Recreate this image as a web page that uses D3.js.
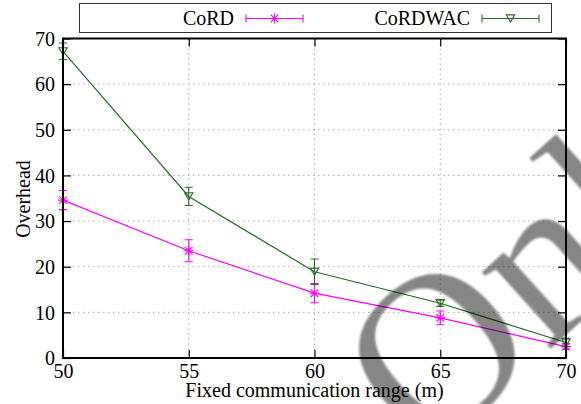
<!DOCTYPE html>
<html><head><meta charset="utf-8">
<script src="https://cdn.jsdelivr.net/npm/d3@7"></script>
<style>body{margin:0;background:#fff}svg{display:block}</style>
</head><body>
<svg id="c" width="581" height="404"></svg>
<script>
const xValues = [50, 55, 60, 65, 70];
const seriesNames = ["CoRD", "CoRDWAC"];
const cordValues = [34.6, 23.5, 14.2, 8.8, 2.5];
const cordErrors = [2.1, 2.4, 2.1, 1.5, 0.6];
const wacValues = [67.2, 35.4, 18.9, 12.0, 3.4];
const wacErrors = [1.8, 2.0, 2.8, 0.7, 0.9];
const xTicks = [50, 55, 60, 65, 70];
const yTicks = [0, 10, 20, 30, 40, 50, 60, 70];
const xTitle = "Fixed communication range (m)";
const yTitle = "Overhead";
const watermark = "Online";

const svg = d3.select("#c");
const font = "Liberation Serif, Times New Roman, serif";
const FS = 20;
const L = 63, R = 566, T = 38.5, B = 358;
const x = d3.scaleLinear().domain([50, 70]).range([L, R]);
const y = d3.scaleLinear().domain([0, 70]).range([B, T]);
const colors = ["#ff00ff", "#2a6a2a"];

svg.append("rect").attr("width", 581).attr("height", 404).attr("fill", "#fff");

// grid
const g = svg.append("g");
g.selectAll(".gy").data(yTicks.filter(d => d > 0 && d < 70)).join("line")
  .attr("x1", L).attr("x2", R).attr("y1", d => y(d)).attr("y2", d => y(d))
  .attr("stroke", "#aaa").attr("stroke-width", 1).attr("stroke-dasharray", "1.5,3.5");
g.selectAll(".gx").data(xTicks.filter(d => d > 50 && d < 70)).join("line")
  .attr("y1", T).attr("y2", B).attr("x1", d => x(d)).attr("x2", d => x(d))
  .attr("stroke", "#aaa").attr("stroke-width", 1).attr("stroke-dasharray", "1.5,3.5");

// axes with inward ticks (mirrored)
const axL = svg.append("g").attr("transform", `translate(${L},0)`)
  .call(d3.axisLeft(y).tickValues(yTicks).tickSize(-8).tickPadding(8).tickFormat(d3.format("d")));
const axR = svg.append("g").attr("transform", `translate(${R},0)`)
  .call(d3.axisRight(y).tickValues(yTicks).tickSize(-8).tickFormat(""));
const axB = svg.append("g").attr("transform", `translate(0,${B})`)
  .call(d3.axisBottom(x).tickValues(xTicks).tickSize(-8).tickPadding(6).tickFormat(d3.format("d")));
const axT = svg.append("g").attr("transform", `translate(0,${T})`)
  .call(d3.axisTop(x).tickValues(xTicks).tickSize(-8).tickFormat(""));
[axL, axR, axB, axT].forEach(a => {
  a.attr("font-family", font).attr("font-size", FS);
  a.select(".domain").remove();
  a.selectAll("line").attr("stroke", "#000").attr("stroke-width", 1.2);
  a.selectAll("text").style("font-family", font).style("font-size", FS + "px").attr("fill", "#000");
});
axL.selectAll("text").attr("dy", "0.34em");
axB.selectAll("text").attr("dy", "0.71em");

// series
const series = [
  {name: seriesNames[0], vals: cordValues, errs: cordErrors, color: colors[0], marker: "star"},
  {name: seriesNames[1], vals: wacValues, errs: wacErrors, color: colors[1], marker: "tri"}
];
const line = d3.line().x(d => x(d[0])).y(d => y(d[1]));

function drawMarker(sel, type, cx, cy, color) {
  if (type === "star") {
    const s = 5, d = 3.8;
    const p = `M${cx - s},${cy}H${cx + s}M${cx},${cy - s}V${cy + s}M${cx - d},${cy - d}L${cx + d},${cy + d}M${cx - d},${cy + d}L${cx + d},${cy - d}`;
    sel.append("path").attr("d", p).attr("stroke", color).attr("stroke-width", 1.1).attr("fill", "none");
  } else {
    const w = 4.2, h = 3.6;
    const p = `M${cx - w},${cy - h}L${cx + w},${cy - h}L${cx},${cy + h}Z`;
    sel.append("path").attr("d", p).attr("stroke", color).attr("stroke-width", 1.1).attr("fill", "none");
  }
}

series.forEach(s => {
  const data = xValues.map((xv, i) => [xv, s.vals[i], s.errs[i]]);
  const sg = svg.append("g");
  sg.append("path").datum(data).attr("d", line).attr("fill", "none")
    .attr("stroke", s.color).attr("stroke-width", 1.2);
  data.forEach(d => {
    const cx = x(d[0]), y1 = y(d[1] - d[2]), y2 = y(d[1] + d[2]), cw = 4;
    sg.append("path")
      .attr("d", `M${cx},${y1}V${y2}M${cx - cw},${y1}H${cx + cw}M${cx - cw},${y2}H${cx + cw}`)
      .attr("stroke", s.color).attr("stroke-width", 1.1).attr("fill", "none");
    drawMarker(sg, s.marker, cx, y(d[1]), s.color);
  });
});

// frame
svg.append("rect").attr("x", L).attr("y", T).attr("width", R - L).attr("height", B - T)
  .attr("fill", "none").attr("stroke", "#000").attr("stroke-width", 2);

// axis titles
svg.append("text").attr("x", 314.5).attr("y", 396.5).attr("text-anchor", "middle")
  .attr("font-family", font).attr("font-size", FS).text(xTitle);
svg.append("text").attr("transform", "translate(30,199) rotate(-90)").attr("text-anchor", "middle")
  .attr("font-family", font).attr("font-size", FS).text(yTitle);

// legend
svg.append("rect").attr("x", 79.5).attr("y", 3.5).attr("width", 472).attr("height", 29)
  .attr("fill", "#fff").attr("stroke", "#333").attr("stroke-width", 1);
const legendItems = [
  {textX: 234, x1: 246, x2: 303},
  {textX: 470, x1: 482, x2: 539}
];
series.forEach((s, i) => {
  const li = legendItems[i], ly = 18.5;
  svg.append("text").attr("x", li.textX).attr("y", 25).attr("text-anchor", "end")
    .attr("font-family", font).attr("font-size", FS).text(s.name);
  const lg = svg.append("g");
  lg.append("path").attr("d", `M${li.x1},${ly}H${li.x2}M${li.x1},${ly - 4}V${ly + 4}M${li.x2},${ly - 4}V${ly + 4}`)
    .attr("stroke", s.color).attr("stroke-width", 1.1).attr("fill", "none");
  drawMarker(lg, s.marker, (li.x1 + li.x2) / 2, ly, s.color);
});

// watermark
const defs = svg.append("defs");
defs.append("filter").attr("id", "wmblur").append("feGaussianBlur").attr("stdDeviation", 0.9);
svg.append("text").attr("transform", "translate(426,461) rotate(-42)")
  .attr("font-family", font).attr("font-size", 225).attr("fill", "#000").attr("opacity", 0.47)
  .attr("filter", "url(#wmblur)")
  .text(watermark);
</script>
</body></html>
